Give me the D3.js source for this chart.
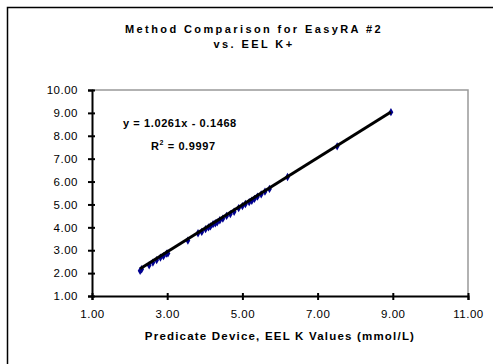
<!DOCTYPE html>
<html><head><meta charset="utf-8">
<script src="https://cdn.jsdelivr.net/npm/d3@7"></script>
<style>body{margin:0;background:#fff}svg{display:block;font-family:Arial,"Liberation Sans",sans-serif}</style>
</head><body>
<svg id="c" width="493" height="364"></svg>
<script>
const xVals = [2.28,2.32,2.52,2.62,2.72,2.82,2.90,2.98,3.02,3.55,3.82,3.92,4.02,4.10,4.15,4.22,4.28,4.33,4.40,4.48,4.58,4.68,4.78,4.90,5.00,5.08,5.18,5.25,5.32,5.40,5.50,5.60,5.72,6.20,7.52,8.95];
const yVals = [2.10,2.17,2.34,2.46,2.57,2.68,2.74,2.85,2.86,3.42,3.74,3.80,3.92,4.00,4.04,4.14,4.18,4.22,4.31,4.38,4.50,4.58,4.68,4.84,4.93,5.02,5.10,5.16,5.24,5.34,5.44,5.56,5.68,6.20,7.54,9.03];
const xTicks = [1,3,5,7,9,11];
const yTicks = [1,2,3,4,5,6,7,8,9,10];
const slope = 1.0261, intercept = -0.1468;
const titleLines = ["Method Comparison for EasyRA #2","vs. EEL K+"];
const xTitle = "Predicate Device, EEL K Values (mmol/L)";

const svg = d3.select("#c");
svg.append("rect").attr("x",7.5).attr("y",7.5).attr("width",520).attr("height",400)
  .attr("fill","none").attr("stroke","#000").attr("stroke-width",1.5);

const L=92,R=468,T=90,B=296;
const x = d3.scaleLinear().domain([1,11]).range([L,R]);
const y = d3.scaleLinear().domain([1,10]).range([B,T]);

svg.append("path").attr("d",`M${L},${T}H${R}V${B}`).attr("fill","none").attr("stroke","#999").attr("stroke-width",1.5);

const ya = svg.append("g").attr("transform",`translate(${L},0)`)
  .call(d3.axisLeft(y).tickValues(yTicks).tickFormat(d3.format(".2f")).tickSize(4).tickPadding(10));
const xa = svg.append("g").attr("transform",`translate(0,${B})`)
  .call(d3.axisBottom(x).tickValues(xTicks).tickFormat(d3.format(".2f")).tickSize(4).tickPadding(10));
[ya,xa].forEach(g=>{
  g.select(".domain").attr("stroke","#000").attr("stroke-width",2);
  g.selectAll(".tick line").attr("stroke","#000").attr("stroke-width",2);
  g.selectAll("text").attr("font-size",11.5).attr("fill","#000").attr("font-family","Arial, Liberation Sans, sans-serif").style("letter-spacing","0.5px");
});
ya.selectAll(".tick line").attr("x1",3);
xa.selectAll(".tick line").attr("y1",-3);

const pts = xVals.map((v,i)=>[v,yVals[i]]);
svg.append("g").selectAll("path").data(pts).join("path")
  .attr("transform",d=>`translate(${x(d[0])},${y(d[1])})`)
  .attr("d",d3.symbol().type(d3.symbolDiamond).size(20)).attr("fill","#000090");

const x0=d3.min(xVals), x1=d3.max(xVals);
svg.append("line").attr("x1",x(x0)).attr("y1",y(slope*x0+intercept))
  .attr("x2",x(x1)).attr("y2",y(slope*x1+intercept))
  .attr("stroke","#000").attr("stroke-width",3);

svg.selectAll("text.title").data(titleLines).join("text").attr("class","title")
  .attr("x",254).attr("y",(d,i)=>33+i*14.5).attr("text-anchor","middle")
  .attr("font-size",11).attr("font-weight","bold").style("letter-spacing","2.4px").text(d=>d);
svg.append("text").attr("x",280).attr("y",340).attr("text-anchor","middle")
  .attr("font-size",11.5).attr("font-weight","bold").style("letter-spacing","1.2px").text(xTitle);

svg.append("text").attr("x",123).attr("y",127).attr("font-size",11).attr("font-weight","bold")
  .style("letter-spacing","0.6px").text(`y = ${slope}x - ${Math.abs(intercept)}`);
const r2 = svg.append("text").attr("x",151).attr("y",150).attr("font-size",11).attr("font-weight","bold").style("letter-spacing","0.6px");
r2.append("tspan").text("R");
r2.append("tspan").attr("dy",-5).attr("font-size",7).text("2");
r2.append("tspan").attr("dy",5).text(" = 0.9997");
</script>
</body></html>
